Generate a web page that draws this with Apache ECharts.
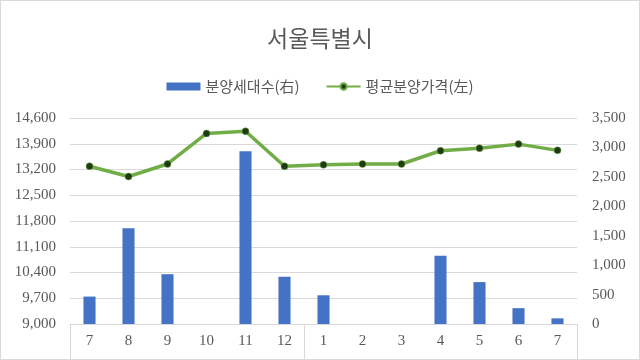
<!DOCTYPE html>
<html><head><meta charset="utf-8">
<script src="https://cdn.jsdelivr.net/npm/echarts@6/dist/echarts.min.js"></script>
<style>html,body{margin:0;padding:0;background:#fff}#c{width:640px;height:360px;box-sizing:border-box;border:1px solid #D9D9D9}</style>
</head><body><div id="c"></div>
<script>
const title = '서울특별시';
const categories = ['7','8','9','10','11','12','1','2','3','4','5','6','7'];
const units = [466, 1627, 846, 0, 2933, 803, 488, 0, 0, 1161, 712, 269, 96];
const prices = [13290, 13010, 13350, 14180, 14240, 13290, 13330, 13350, 13350, 13710, 13780, 13890, 13720];
const seriesNames = ['분양세대수(右)', '평균분양가격(左)'];
const yearBoundaries = [0, 6, 13];

const fmt = v => String(v).replace(/\B(?=(\d{3})+(?!\d))/g, ',');
const serif = '"Liberation Serif", serif';
const kr = '"Noto Sans CJK KR", sans-serif';

const chart = echarts.init(document.getElementById('c'));
chart.setOption({
  animation: false,
  title: { text: title, left: 'center', top: 21, textStyle: { fontFamily: kr, fontSize: 23, fontWeight: 'normal', color: '#595959' } },
  legend: {
    top: 73, left: 'center', itemGap: 26, itemWidth: 34, itemHeight: 8,
    textStyle: { fontFamily: kr, fontSize: 15, color: '#595959' },
    data: [{ name: seriesNames[0], icon: 'rect' }, { name: seriesNames[1] }]
  },
  grid: { left: 69, right: 62, top: 117, bottom: 35 },
  xAxis: {
    type: 'category', data: categories,
    axisLine: { lineStyle: { color: '#D9D9D9' } },
    axisTick: { show: true, length: 40, interval: (i) => yearBoundaries.includes(i), lineStyle: { color: '#D9D9D9' } },
    axisLabel: { fontFamily: serif, fontSize: 15, color: '#595959', margin: 10, interval: 0 }
  },
  yAxis: [
    { type: 'value', min: 9000, max: 14600, interval: 700,
      axisLine: { show: false }, axisTick: { show: false },
      axisLabel: { fontFamily: serif, fontSize: 15, color: '#595959', formatter: fmt, margin: 14 },
      splitLine: { lineStyle: { color: '#D9D9D9' } } },
    { type: 'value', min: 0, max: 3500, interval: 500,
      axisLine: { show: false }, axisTick: { show: false },
      axisLabel: { fontFamily: serif, fontSize: 15, color: '#595959', formatter: fmt, margin: 15 },
      splitLine: { show: false } }
  ],
  series: [
    { name: seriesNames[0], type: 'bar', yAxisIndex: 1, data: units, barWidth: '31%', itemStyle: { color: '#4472C4' } },
    { name: seriesNames[1], type: 'line', yAxisIndex: 0, data: prices, symbol: 'circle', symbolSize: 7,
      lineStyle: { color: '#70AD47', width: 3.5 }, itemStyle: { color: '#203A14', borderColor: '#70AD47', borderWidth: 0.5 } }
  ]
});
</script></body></html>
